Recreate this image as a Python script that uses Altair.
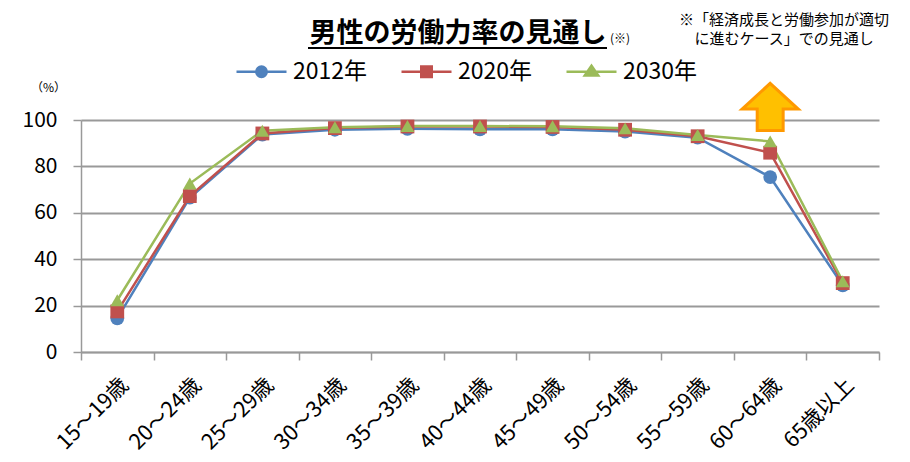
import altair as alt
import pandas as pd

# ---- data ----
ages = ["15～19歳", "20～24歳", "25～29歳", "30～34歳", "35～39歳", "40～44歳",
        "45～49歳", "50～54歳", "55～59歳", "60～64歳", "65歳以上"]
series = ["2012年", "2020年", "2030年"]
v2012 = [14.5, 66.5, 93.7, 95.8, 96.2, 96.0, 96.0, 95.0, 92.4, 75.4, 28.7]
v2020 = [17.5, 67.2, 94.2, 96.5, 97.2, 97.2, 97.0, 95.8, 93.0, 85.9, 29.7]
v2030 = [22.3, 72.6, 95.4, 96.9, 97.4, 97.4, 97.3, 96.4, 93.5, 90.8, 30.5]
colors = ["#4F81BD", "#C0504D", "#9BBB59"]
marker_shapes = ["circle", "square", "triangle-up"]
y_ticks = [0, 20, 40, 60, 80, 100]
arrow_age = "60～64歳"
arrow_value = 105.6

title_text = "男性の労働力率の見通し"
title_mark = "(※)"
note_line1 = "※「経済成長と労働参加が適切"
note_line2 = "に進むケース」での見通し"
unit_text = "（%）"

FONT = "Noto Sans CJK JP"
GRAY = "#999999"

rows = []
for s, vals in zip(series, [v2012, v2020, v2030]):
    for a, v in zip(ages, vals):
        rows.append({"age": a, "series": s, "value": v})
df = pd.DataFrame(rows)

x_enc = alt.X("age:N", sort=ages,
              scale=alt.Scale(type="band", domain=ages, paddingInner=0, paddingOuter=0),
              axis=alt.Axis(title=None, tickBand="extent", labelAngle=-45, labelFontSize=21.5,
                            labelFont=FONT, labelColor="black", tickSize=8, tickColor=GRAY,
                            tickWidth=1.5, domainColor=GRAY, domainWidth=1.5, grid=False,
                            labelPadding=14))
y_enc = alt.Y("value:Q", scale=alt.Scale(domain=[0, 100], nice=False),
              axis=alt.Axis(title=None, values=y_ticks, grid=True, gridColor=GRAY, gridWidth=2,
                            tickSize=8, tickColor=GRAY, tickWidth=1.5, domainColor=GRAY,
                            domainWidth=1.5, labelFontSize=21, labelFont=FONT,
                            labelColor="black", labelPadding=16))

base = alt.Chart(df)

lines = base.mark_line(strokeWidth=2.5).encode(
    x=x_enc, y=y_enc,
    stroke=alt.Stroke("series:N", scale=alt.Scale(domain=series, range=colors), legend=None),
    detail="series:N")

point_layers = [
    base.transform_filter(alt.datum.series == s).mark_point(
        shape=shp, color=c, filled=True, size=190, opacity=1
    ).encode(x=x_enc, y=y_enc)
    for s, shp, c in zip(series, marker_shapes, colors)
]


# legend symbols: a line segment with the series marker on it (marker filled by nested outlines)
def circ(r):
    return f"M{-r},0 A{r},{r} 0 1,0 {r},0 A{r},{r} 0 1,0 {-r},0 Z"


def sq(h):
    return f"M{-h},{-h} L{h},{-h} L{h},{h} L{-h},{h} Z"


def tri(k):
    return f"M0,{-0.24 * k:.3f} L{0.27 * k:.3f},{0.15 * k:.3f} L{-0.27 * k:.3f},{0.15 * k:.3f} Z"


leg_paths = [
    "M-1,0 L1,0 " + " ".join(circ(r) for r in [0.21, 0.16, 0.11, 0.06, 0.02]),
    "M-1,0 L1,0 " + " ".join(sq(h) for h in [0.21, 0.16, 0.11, 0.06, 0.02]),
    "M-1,0 L1,0 " + " ".join(tri(k) for k in [1.0, 0.75, 0.5, 0.25, 0.08]),
]
leg = alt.Legend(title=None, orient="none", direction="horizontal", legendX=154, legendY=-75,
                 symbolSize=2500, symbolStrokeWidth=2.5, symbolOpacity=1,
                 labelFontSize=23, labelFont=FONT, labelColor="black", labelOffset=5,
                 columnPadding=28, padding=0)
legend_layer = base.mark_point(filled=False, opacity=0, size=10).encode(
    x=x_enc, y=y_enc,
    color=alt.Color("series:N", scale=alt.Scale(domain=series, range=colors), legend=leg),
    shape=alt.Shape("series:N", scale=alt.Scale(domain=series, range=leg_paths), legend=leg),
)

arrow_path = "M0,-0.8 L0.95,0.07 L0.44,0.07 L0.44,0.8 L-0.44,0.8 L-0.44,0.07 L-0.95,0.07 Z"
arrow = alt.Chart(pd.DataFrame({"age": [arrow_age], "value": [arrow_value]})).mark_point(
    shape=arrow_path, size=3481, filled=True, fill="#FFC000", stroke="#FF9900",
    strokeWidth=3, opacity=1
).encode(x=alt.X("age:N", sort=ages), y=alt.Y("value:Q"))

one = alt.Data(values=[{}])


def txt(text, x, y, size, weight="normal", align="center"):
    return alt.Chart(one).mark_text(text=text, font=FONT, fontSize=size, fontWeight=weight,
                                    align=align, baseline="middle", color="black").encode(
        x=alt.value(x), y=alt.value(y))


title = txt(title_text, 377, -86.5, 27, "bold")
underline = alt.Chart(one).mark_rule(color="black", strokeWidth=2).encode(
    x=alt.value(227), x2=alt.value(526), y=alt.value(-72))
tmark = txt(title_mark, 529, -81.5, 12, align="left")
n1 = txt(note_line1, 703, -100.5, 15)
n2 = txt(note_line2, 703, -81, 15)
unit = txt(unit_text, -32.5, -32.5, 12)

chart = alt.layer(
    lines, *point_layers, legend_layer, arrow, title, underline, tmark, n1, n2, unit
).resolve_scale(color="independent", shape="independent").properties(
    width=798, height=232,
    autosize=alt.AutoSizeParams(type="none"),
    padding={"left": 73, "top": 112, "right": 23, "bottom": 102},
).configure_view(stroke=None)

chart.save("out.html", embed_options={"renderer": "svg", "actions": False})
